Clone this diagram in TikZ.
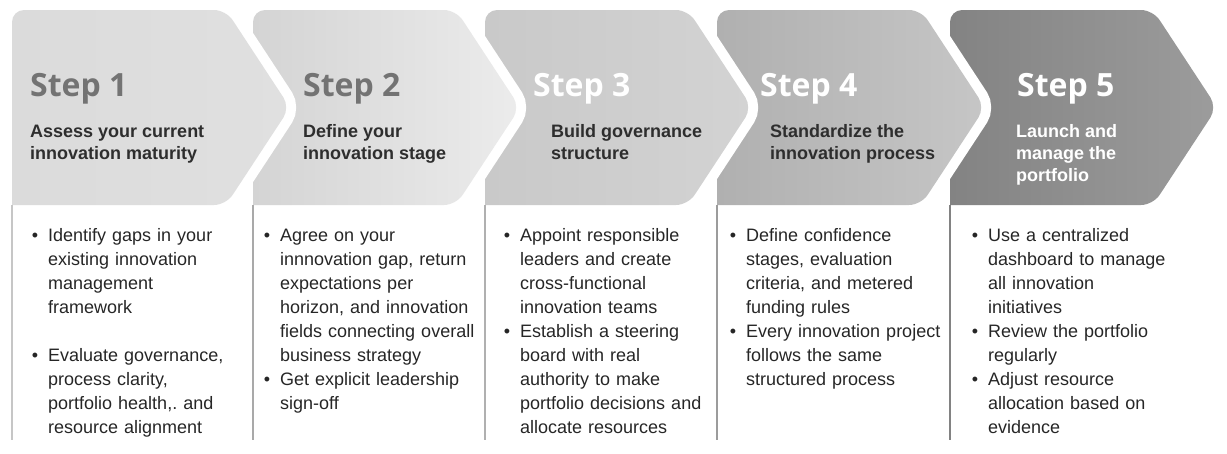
\documentclass[tikz,border=0pt]{standalone}
\usepackage{fontspec}
\setmainfont{Liberation Sans}
\newfontfamily\stepfont{Open Sans}
\usepackage{xcolor}
\usepackage{tikz}
\frenchspacing

\definecolor{titlegray}{HTML}{737373}
\definecolor{headgray}{HTML}{2E2E2E}
\definecolor{bodygray}{HTML}{262626}
\definecolor{s1l}{HTML}{DBDBDB}\definecolor{s1r}{HTML}{E0E0E0}
\definecolor{s2l}{HTML}{D4D4D4}\definecolor{s2r}{HTML}{ECECEC}
\definecolor{s3l}{HTML}{C9C9C9}\definecolor{s3r}{HTML}{D3D3D3}
\definecolor{s4l}{HTML}{B0B0B0}\definecolor{s4r}{HTML}{C6C6C6}
\definecolor{s5l}{HTML}{838383}\definecolor{s5r}{HTML}{9C9C9C}

% bullet list for the card below each arrow
\newcommand{\stepitems}[2][0pt]{%
	\begin{list}{\textbullet}{\setlength{\leftmargin}{16pt}\setlength{\labelsep}{10pt}%
		\setlength{\itemsep}{#1}\setlength{\parsep}{0pt}\setlength{\topsep}{0pt}%
		\setlength{\partopsep}{0pt}}\raggedright #2\end{list}}

\tikzset{
	steptitle/.style={anchor=base west,inner sep=0,font=\stepfont\bfseries\fontsize{32}{32}\selectfont,text=titlegray},
	stephead/.style={anchor=base west,inner sep=0,align=left,font=\bfseries\fontsize{18}{22}\selectfont,text=headgray},
	stepbody/.style={anchor=base west,inner sep=0,text width=220pt,font=\fontsize{18}{24}\selectfont,text=bodygray},
	cardline/.style={line width=2pt},
}

\begin{document}
\begin{tikzpicture}[x=1pt,y=-1pt]
	\useasboundingbox (0,0) rectangle (1227,453);
	% arrows, right to left so each white rim cuts into the next one
	\foreach \i/\L/\T in {5/950/1217,4/717/985,3/485/752,2/253/520,1/12/290}{
		\path[left color=s\i l,right color=s\i r,preaction={draw=white,line width=20pt}]
			(\L,205) [rounded corners=12pt] -- (\L,10) -- (\T-64,10) -- (\T,107.5) -- (\T-64,205) [sharp corners] -- cycle;
	}
	% card borders
	\foreach \L/\c in {12/C6C6C6,253/A9A9A9,485/B0B0B0,717/9C9C9C,950/828282}{
		\definecolor{cl}{HTML}{\c}
		\draw[cardline,cl] (\L,205) -- (\L,440);
	}

	\node (t1) at (30,96)[steptitle]{Step 1};
	\node (t2) at (303,96)[steptitle]{Step 2};
	\node (t3) at (533,96)[steptitle,text=white]{Step 3};
	\node (t4) at (760,96)[steptitle,text=white]{Step 4};
	\node (t5) at (1017,96)[steptitle,text=white]{Step 5};

	% base of a two-line head is its last line
	\node (h1) at (30,159)[stephead]{Assess your current\\innovation maturity};
	\node (h2) at (303,159)[stephead]{Define your\\innovation stage};
	\node (h3) at (551,159)[stephead]{Build governance\\structure};
	\node (h4) at (770,159)[stephead]{Standardize the\\innovation process};
	\node (h5) at (1016,181)[stephead,text=white]{Launch and\\manage the\\portfolio};

	\node (b1) at (32,217)[stepbody]{\stepitems[24pt]{%
		\item Identify gaps in your\\existing innovation\\management\\framework
		\item Evaluate governance,\\process clarity,\\portfolio health,. and\\resource alignment}};
	\node (b2) at (264,217)[stepbody]{\stepitems{%
		\item Agree on your\\innnovation gap, return\\expectations per\\horizon, and innovation\\fields connecting overall\\business strategy
		\item Get explicit leadership\\sign-off}};
	\node (b3) at (504,217)[stepbody]{\stepitems{%
		\item Appoint responsible\\leaders and create\\cross-functional\\innovation teams
		\item Establish a steering\\board with real\\authority to make\\portfolio decisions and\\allocate resources}};
	\node (b4) at (730,217)[stepbody]{\stepitems{%
		\item Define confidence\\stages, evaluation\\criteria, and metered\\funding rules
		\item Every innovation project\\follows the same\\structured process}};
	\node (b5) at (972,217)[stepbody]{\stepitems{%
		\item Use a centralized\\dashboard to manage\\all innovation\\initiatives
		\item Review the portfolio\\regularly
		\item Adjust resource\\allocation based on\\evidence}};
\end{tikzpicture}
\end{document}
